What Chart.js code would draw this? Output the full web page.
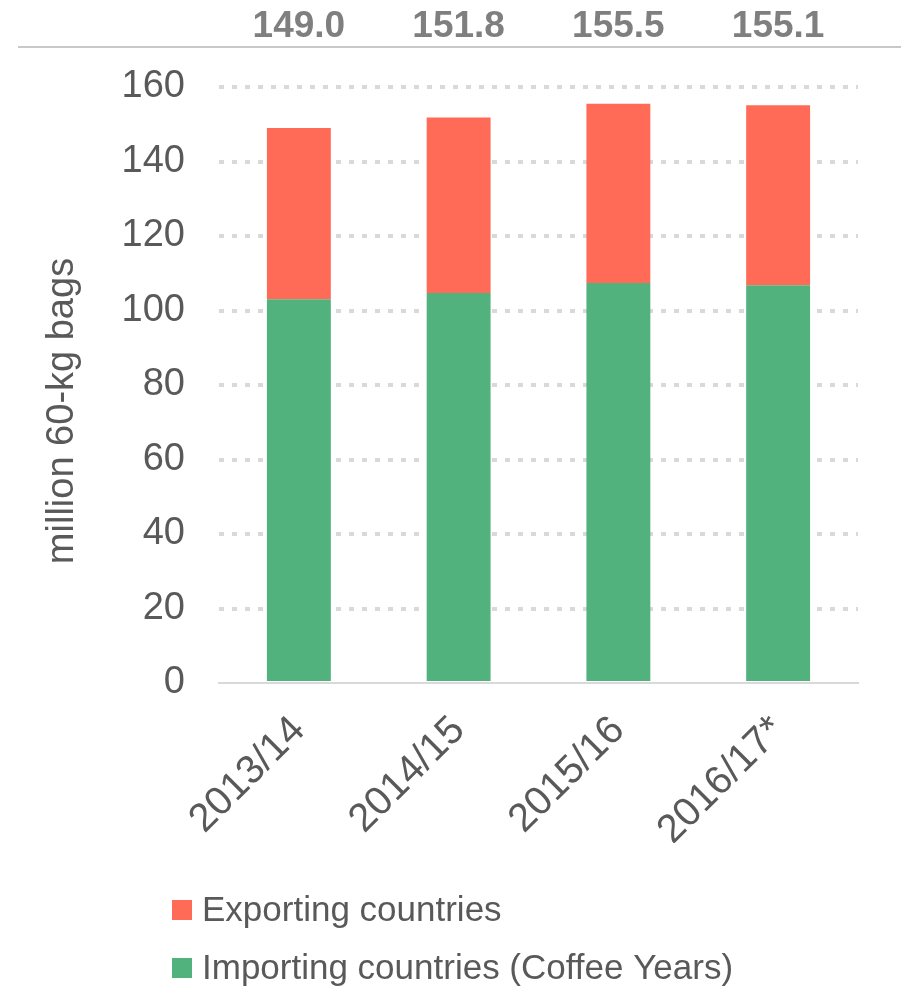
<!DOCTYPE html>
<html>
<head>
<meta charset="utf-8">
<script src="https://cdn.jsdelivr.net/npm/chart.js@4"></script>
<style>
  html, body { margin: 0; padding: 0; background: #ffffff; }
  #wrap { width: 901px; height: 987px; position: relative; }
</style>
</head>
<body>
<div id="wrap"><canvas id="c" width="901" height="987"></canvas></div>
<script>
const categories = ['2013/14', '2014/15', '2015/16', '2016/17*'];
const importing = [103.0, 104.7, 107.4, 106.8];
const exporting = [46.0, 47.1, 48.1, 48.3];
const totals = [149.0, 151.8, 155.5, 155.1];
const yTicks = [0, 20, 40, 60, 80, 100, 120, 140, 160];
const seriesNames = ['Importing countries (Coffee Years)', 'Exporting countries'];
const yTitle = 'million 60-kg bags';

const FONT = '"Liberation Sans", Arial, sans-serif';
const TEXT = '#595959';
const RED = '#FF6B57';
const GREEN = '#52B27D';

const totalsPlugin = {
  id: 'totals',
  afterDraw(chart) {
    const ctx = chart.ctx;
    const x = chart.scales.x;
    ctx.save();
    ctx.strokeStyle = '#c8c8c8';
    ctx.lineWidth = 2;
    ctx.beginPath();
    ctx.moveTo(18, 47);
    ctx.lineTo(chart.width, 47);
    ctx.stroke();
    ctx.fillStyle = '#7f7f7f';
    ctx.font = 'bold 37px ' + FONT;
    ctx.textAlign = 'center';
    ctx.textBaseline = 'middle';
    totals.forEach((t, i) => {
      ctx.fillText(t.toFixed(1), x.getPixelForValue(i), 27);
    });
    ctx.restore();
  }
};

const yTitlePlugin = {
  id: 'yTitle',
  afterDraw(chart) {
    const ctx = chart.ctx;
    const a = chart.chartArea;
    ctx.save();
    ctx.translate(63, (a.top + a.bottom) / 2 + 26);
    ctx.rotate(-Math.PI / 2);
    ctx.fillStyle = TEXT;
    ctx.font = '38px ' + FONT;
    ctx.textAlign = 'center';
    ctx.textBaseline = 'middle';
    ctx.fillText(yTitle, 0, 0);
    ctx.restore();
  }
};

const legendPlugin = {
  id: 'customLegend',
  afterDraw(chart) {
    const ctx = chart.ctx;
    const ds = chart.data.datasets.slice().reverse();
    ctx.save();
    ctx.font = '35px ' + FONT;
    ctx.textBaseline = 'middle';
    ctx.textAlign = 'left';
    ds.forEach((d, i) => {
      const cy = 910 + i * 58;
      ctx.fillStyle = d.backgroundColor;
      ctx.fillRect(172, cy - 10, 20, 20);
      ctx.fillStyle = TEXT;
      ctx.fillText(d.label, 202, cy + 1);
    });
    ctx.restore();
  }
};

new Chart(document.getElementById('c'), {
  type: 'bar',
  data: {
    labels: categories,
    datasets: [
      { label: seriesNames[0], data: importing, backgroundColor: GREEN, borderWidth: 0 },
      { label: seriesNames[1], data: exporting, backgroundColor: RED, borderWidth: 0 }
    ]
  },
  options: {
    responsive: false,
    animation: false,
    devicePixelRatio: 1,
    layout: { padding: { top: 87, right: 43, left: 0, bottom: 144 } },
    plugins: { legend: { display: false }, tooltip: { enabled: false } },
    datasets: { bar: { categoryPercentage: 1.0, barPercentage: 0.4 } },
    scales: {
      x: {
        stacked: true,
        grid: { display: false, drawTicks: false },
        border: { display: true, color: '#d9d9d9', width: 2 },
        ticks: {
          color: TEXT,
          font: { family: FONT, size: 40 },
          maxRotation: 45,
          minRotation: 45,
          padding: 24
        },
        afterFit(scale) { scale.height = 160; }
      },
      y: {
        stacked: true,
        min: 0,
        max: 160,
        afterBuildTicks(scale) { scale.ticks = yTicks.map(v => ({ value: v })); },
        grid: {
          color: (c) => c.tick && c.tick.value === 0 ? 'rgba(0,0,0,0)' : '#d9d9d9',
          lineWidth: 4,
          drawTicks: false
        },
        border: { display: false, dash: [5, 8] },
        ticks: {
          color: TEXT,
          font: { family: FONT, size: 38 },
          padding: 34
        },
        title: { display: false },
        afterFit(scale) { scale.width = 219; }
      }
    }
  },
  plugins: [totalsPlugin, yTitlePlugin, legendPlugin]
});
</script>
</body>
</html>
